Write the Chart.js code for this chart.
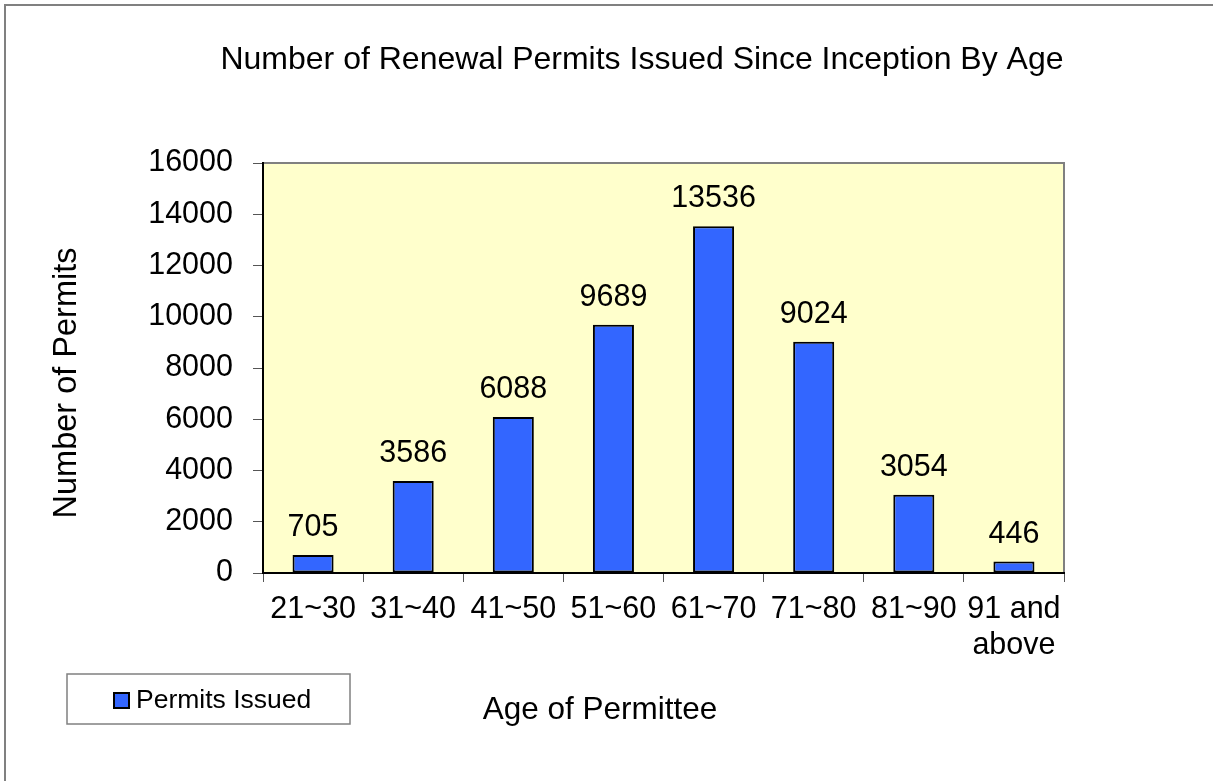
<!DOCTYPE html>
<html>
<head>
<meta charset="utf-8">
<title>Renewal Permits By Age</title>
<script src="https://cdn.jsdelivr.net/npm/chart.js@4.4.1/dist/chart.umd.min.js"></script>
<style>
    html, body { margin: 0; padding: 0; background: #ffffff; }
    #wrap { width: 1213px; height: 781px; position: relative; }
</style>
</head>
<body>
<div id="wrap"><canvas id="permitsCanvas" width="1213" height="781"></canvas></div>
<script>
// chart data
let ageGroups = ['21~30', '31~40', '41~50', '51~60', '61~70', '71~80', '81~90', ['91 and', 'above']];
let permitsIssued = [705, 3586, 6088, 9689, 13536, 9024, 3054, 446];
let yTicks = [0, 2000, 4000, 6000, 8000, 10000, 12000, 14000, 16000];

let chartTitle = 'Number of Renewal Permits Issued Since Inception By Age';
let xTitle = 'Age of Permittee';
let yTitle = 'Number of Permits';
let seriesName = 'Permits Issued';

const FONT = '"Liberation Sans", Arial, Helvetica, sans-serif';
const BAR_COLOR = '#3366FF';

// frame, plot background and the texts Excel put around the plot
let excelLook = {
    id: 'excelLook',
    beforeDraw: function (chart) {
        let ctx = chart.ctx;
        let a = chart.chartArea;
        ctx.save();
        ctx.fillStyle = '#FFFFCC';
        ctx.fillRect(a.left, a.top, a.right - a.left, a.bottom - a.top);
        // outer chart border (only top and left are inside the picture)
        ctx.strokeStyle = '#808080';
        ctx.lineWidth = 2;
        ctx.beginPath();
        ctx.moveTo(5, chart.height);
        ctx.lineTo(5, 5);
        ctx.lineTo(chart.width, 5);
        ctx.stroke();
        // plot area top + right border
        ctx.beginPath();
        ctx.moveTo(a.left, a.top);
        ctx.lineTo(a.right, a.top);
        ctx.lineTo(a.right, a.bottom);
        ctx.stroke();
        ctx.restore();
    },
    afterDraw: function (chart) {
        let ctx = chart.ctx;
        ctx.save();
        ctx.fillStyle = '#000000';
        ctx.textBaseline = 'alphabetic';
        ctx.textAlign = 'center';

        // titles
        ctx.font = '32px ' + FONT;
        ctx.fillText(chartTitle, 642, 69);
        ctx.font = '31.5px ' + FONT;
        ctx.fillText(xTitle, 600, 719);

        ctx.save();
        ctx.font = '32.5px ' + FONT;
        ctx.translate(76, 383);
        ctx.rotate(-Math.PI / 2);
        ctx.fillText(yTitle, 0, 0);
        ctx.restore();

        // value labels above bars
        ctx.font = '30.5px ' + FONT;
        let meta = chart.getDatasetMeta(0);
        meta.data.forEach(function (bar, i) {
            ctx.fillText(String(permitsIssued[i]), bar.x, bar.y - 19);
        });

        // legend box
        ctx.strokeStyle = '#808080';
        ctx.lineWidth = 1.5;
        ctx.strokeRect(67, 674, 283, 50);
        ctx.fillStyle = BAR_COLOR;
        ctx.fillRect(114, 693, 15, 15);
        ctx.strokeStyle = '#000000';
        ctx.lineWidth = 2;
        ctx.strokeRect(114, 693, 15, 15);
        ctx.fillStyle = '#000000';
        ctx.font = '26.5px ' + FONT;
        ctx.textAlign = 'left';
        ctx.fillText(seriesName, 136, 708);
        ctx.restore();
    }
};

let ctx = document.getElementById('permitsCanvas').getContext('2d');
let permitsChart = new Chart(ctx, {
    type: 'bar',
    data: {
        labels: ageGroups,
        datasets: [{
            label: seriesName,
            data: permitsIssued,
            backgroundColor: BAR_COLOR,
            borderColor: '#000000',
            borderWidth: 2,
            borderSkipped: false,
            categoryPercentage: 1.0,
            barPercentage: 0.41
        }]
    },
    options: {
        responsive: false,
        animation: false,
        layout: {
            padding: { left: 0, top: 163, right: 149, bottom: 108 }
        },
        plugins: {
            legend: { display: false },
            title: { display: false },
            tooltip: { enabled: false }
        },
        scales: {
            x: {
                afterFit: function (scale) { scale.height = 100; },
                grid: {
                    offset: true,
                    drawOnChartArea: false,
                    tickLength: 9,
                    color: '#555555'
                },
                border: { display: true, color: '#000000', width: 2 },
                ticks: {
                    color: '#000000',
                    font: { family: FONT, size: 30.5, lineHeight: 1.2 },
                    padding: 9,
                    maxRotation: 0,
                    autoSkip: false
                }
            },
            y: {
                min: 0,
                max: 16000,
                afterFit: function (scale) { scale.width = 263; },
                afterBuildTicks: function (scale) {
                    scale.ticks = yTicks.map(function (v) { return { value: v }; });
                },
                grid: {
                    drawOnChartArea: false,
                    tickLength: 10,
                    color: '#555555'
                },
                border: { display: true, color: '#000000', width: 2 },
                ticks: {
                    color: '#000000',
                    font: { family: FONT, size: 30.5 },
                    padding: 20,
                    callback: function (value) { return String(value); }
                }
            }
        }
    },
    plugins: [excelLook]
});
</script>
</body>
</html>
